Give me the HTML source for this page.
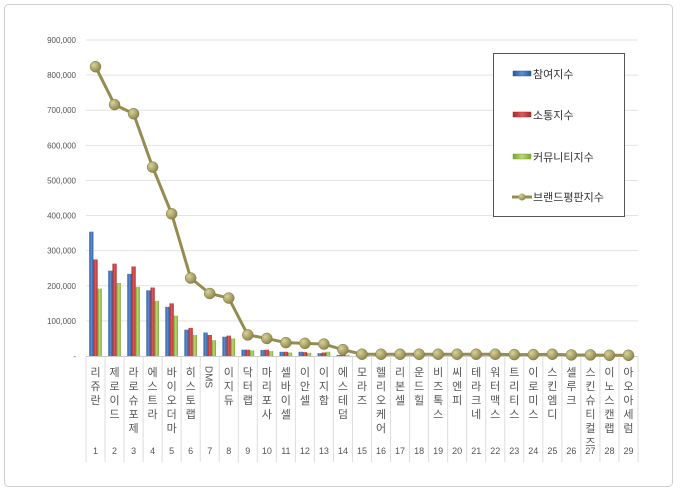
<!DOCTYPE html>
<html><head><meta charset="utf-8"><style>
body{margin:0;background:#fff;font-family:"Liberation Sans","Noto Sans CJK KR",sans-serif;}
svg text{font-family:"Liberation Sans","Noto Sans CJK KR",sans-serif;}
</style></head><body>
<svg id="chart" width="680" height="494" xmlns="http://www.w3.org/2000/svg">
<defs>
<linearGradient id="gb" x1="0" x2="1"><stop offset="0" stop-color="#2a5a9a"/><stop offset="0.5" stop-color="#5b8fd6"/><stop offset="1" stop-color="#2a5a9a"/></linearGradient>
<linearGradient id="gr" x1="0" x2="1"><stop offset="0" stop-color="#a52a2a"/><stop offset="0.5" stop-color="#e05a5a"/><stop offset="1" stop-color="#a52a2a"/></linearGradient>
<linearGradient id="gg" x1="0" x2="1"><stop offset="0" stop-color="#7fa23a"/><stop offset="0.5" stop-color="#b8dc70"/><stop offset="1" stop-color="#7fa23a"/></linearGradient>
<radialGradient id="gd" cx="0.35" cy="0.35" r="0.7"><stop offset="0" stop-color="#d8d29a"/><stop offset="1" stop-color="#8a8248"/></radialGradient>
</defs>
<rect x="4.5" y="4.5" width="668" height="482" rx="4" fill="#fff" stroke="#cfcfcf"/>
<g id="grid"></g><g id="bars"></g><g id="line"></g><g id="xlab"></g>
<g>
<rect x="493.5" y="53.5" width="131" height="163" fill="#fff" stroke="#555"/>
<rect x="513" y="71" width="18" height="5" fill="url(#gb)" stroke="#2a5a9a" stroke-width="0.5"/>
<text x="533" y="78" font-size="11" fill="#333">참여지수</text>
<rect x="513" y="112" width="18" height="5" fill="url(#gr)" stroke="#a52a2a" stroke-width="0.5"/>
<text x="533" y="119" font-size="11" fill="#333">소통지수</text>
<rect x="513" y="154" width="18" height="5" fill="url(#gg)" stroke="#7fa23a" stroke-width="0.5"/>
<text x="533" y="161" font-size="11" fill="#333">커뮤니티지수</text>
<line x1="512" y1="197" x2="532" y2="197" stroke="#948c50" stroke-width="3"/>
<circle cx="522" cy="197" r="3.5" fill="url(#gd)"/>
<text x="533" y="201" font-size="11" fill="#333">브랜드평판지수</text>
</g>
</svg>
<script>
const categories=["리쥬란","제로이드","라로슈포제","에스트라","바이오더마","히스토랩","DMS","이지듀","닥터랩","마리포사","셀바이셀","이안셀","이지함","에스테덤","모라즈","헬리오케어","리본셀","운드힐","비즈톡스","씨엔피","테라크네","워터맥스","트리티스","이로미스","스킨엠디","셀루크","스킨슈티컬즈","이노스캔랩","아오아세럼"];
const participation=[354000,243000,234000,187000,140000,75000,67000,55000,18000,17000,12000,12000,8000,3000,2000,2000,2000,2000,2000,2000,2000,2000,2000,2000,2000,2000,1000,1000,1000];
const communication=[275000,263000,255000,195000,150000,80000,60000,58000,18000,18000,12000,11000,10000,3000,2000,2000,2000,2000,2000,2000,2000,2000,2000,2000,2000,2000,1000,1000,1000];
const community=[192000,208000,197000,157000,115000,60000,45000,50000,16000,14000,10000,9000,12000,3000,2000,2000,2000,2000,2000,2000,2000,2000,2000,2000,2000,2000,1000,1000,1000];
const brand=[824000,716000,690000,538000,405000,222000,178000,165000,60000,50000,38000,36000,34000,18000,5000,5000,5000,5000,5000,5000,5000,5000,4000,4000,5000,3000,3000,2000,2000];
const yTicks=[0,100000,200000,300000,400000,500000,600000,700000,800000,900000];
const NS="http://www.w3.org/2000/svg";
const X0=86,X1=638,Y0=356,Y1=40,YMAX=900000;
const bw=(X1-X0)/categories.length;
const y=v=>Y0-(v/YMAX)*(Y0-Y1);
const xc=i=>X0+bw*(i+0.5);
function mk(tag,attrs,parent){const e=document.createElementNS(NS,tag);for(const k in attrs)e.setAttribute(k,attrs[k]);document.getElementById(parent).appendChild(e);return e;}
yTicks.forEach(t=>{
  if(t>0){const l=mk('line',{x1:X0,x2:X1,y1:y(t),y2:y(t),stroke:'#e3e3e3'},'grid');
  
  }
  const tx=mk('text',{x:76,y:y(t)+3,'font-size':'8','text-anchor':'end',fill:'#555'},'grid');
  tx.textContent=t===0?'-':t.toLocaleString('en-US');
  
  
});
const ax=mk('line',{x1:X0,x2:X1,y1:Y0+0.5,y2:Y0+0.5,stroke:'#ccc'},'grid');


for(let i=0;i<=categories.length;i++){
  const l=mk('line',{x1:X0+bw*i,x2:X0+bw*i,y1:Y0,y2:462,stroke:'#ddd'},'grid');
  
  
}
const series=[[participation,'url(#gb)','bar-participation'],[communication,'url(#gr)','bar-communication'],[community,'url(#gg)','bar-community']];
const w=4.2;
categories.forEach((c,i)=>{
  series.forEach((s,j)=>{
    const v=s[0][i];
    const r=mk('rect',{x:xc(i)-6.3+j*w,y:y(v),width:w,height:Y0-y(v),fill:s[1]},'bars');
    
    
  });
  const g=mk('text',{x:xc(i),y:375,'font-size':'11','text-anchor':'middle',fill:'#555'},'xlab');
  
  
  if(/^[A-Z]+$/.test(c)){g.setAttribute('transform','rotate(90 '+xc(i)+' 369)');g.setAttribute('x',xc(i)+8);g.setAttribute('y',373);g.setAttribute('font-size','10');g.textContent=c;}
  else{[...c].forEach((ch,k)=>{const ts=document.createElementNS(NS,'tspan');ts.setAttribute('x',xc(i));ts.setAttribute('y',376+k*14);ts.textContent=ch;g.appendChild(ts);});}
  const n=mk('text',{x:xc(i),y:454,'font-size':'9','text-anchor':'middle',fill:'#555'},'xlab');
  n.textContent=String(i+1);
  
  
});
const pts=brand.map((v,i)=>xc(i)+','+y(v)).join(' ');
const pl=mk('polyline',{points:pts,fill:'none',stroke:'#948c50','stroke-width':'3'},'line');


brand.forEach((v,i)=>{
  const c=mk('circle',{cx:xc(i),cy:y(v),r:5.5,fill:'url(#gd)',stroke:'#857d45','stroke-width':'0.5'},'line');
  
  
});
</script>
</body></html>
